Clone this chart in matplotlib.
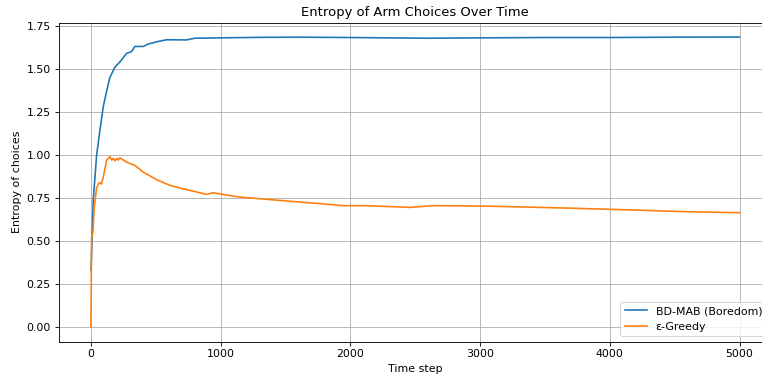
import matplotlib
matplotlib.use("Agg")
import matplotlib.pyplot as plt

# Data
bd_x = [1, 18, 44, 69, 95, 121, 146, 185, 223, 275, 313, 339, 403, 442, 506, 583,
        737, 801, 994, 1300, 1610, 2000, 2586, 3000, 3500, 4000, 4500, 5000]
bd_y = [0.33, 0.74, 1.00, 1.14, 1.28, 1.37, 1.45, 1.51, 1.54, 1.59, 1.60, 1.63, 1.63,
        1.644, 1.657, 1.669, 1.668, 1.678, 1.680, 1.683, 1.684, 1.682, 1.678, 1.680,
        1.682, 1.682, 1.684, 1.685]

eg_x = [0, 5, 15, 26, 44, 64, 80, 95, 121, 146, 160, 172, 185, 198, 210, 223, 240,
        275, 339, 403, 506, 609, 737, 891, 942, 1045, 1148, 1353, 1610, 1764, 1944,
        2124, 2458, 2638, 2997, 3356, 3665, 3998, 4589, 5000]
eg_y = [0.0, 0.52, 0.55, 0.70, 0.81, 0.84, 0.83, 0.87, 0.97, 0.99, 0.97, 0.98, 0.965,
        0.98, 0.97, 0.983, 0.975, 0.958, 0.939, 0.90, 0.856, 0.823, 0.798, 0.771,
        0.780, 0.767, 0.755, 0.742, 0.726, 0.717, 0.705, 0.705, 0.695, 0.705, 0.703,
        0.697, 0.691, 0.684, 0.670, 0.664]

labels = ["BD-MAB (Boredom)", "ε-Greedy"]

DPI = 79
fig = plt.figure(figsize=(762 / DPI, 379 / DPI), dpi=DPI)
ax = fig.add_axes([58.5 / 762, 37.5 / 379, (772 - 58.5) / 762, (341.5 - 22.5) / 379])
ax.plot(bd_x, bd_y, color="#1f77b4", lw=1.5, label=labels[0])
ax.plot(eg_x, eg_y, color="#ff7f0e", lw=1.5, label=labels[1])
ax.set_title("Entropy of Arm Choices Over Time")
ax.set_xlabel("Time step")
ax.set_ylabel("Entropy of choices")
ax.set_xticks([0, 1000, 2000, 3000, 4000, 5000])
ax.set_yticks([0.0, 0.25, 0.5, 0.75, 1.0, 1.25, 1.5, 1.75])
ax.grid(True)
ax.legend(loc="lower right")
fig.savefig("out.png", dpi=DPI)
